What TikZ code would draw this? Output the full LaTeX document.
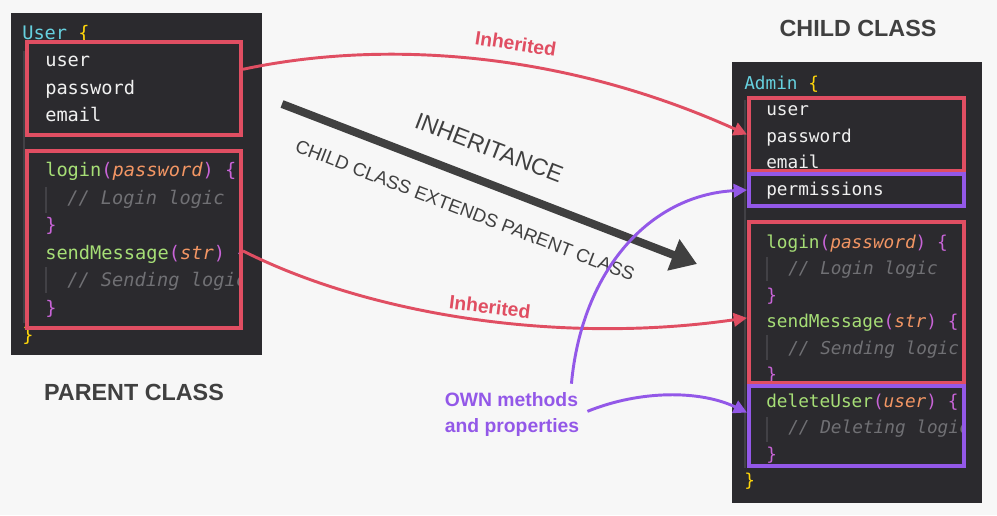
\documentclass[tikz,border=0pt]{standalone}
\usepackage{fontspec}
\setmainfont{Liberation Sans}
\newfontfamily\codefont[ItalicFont={DejaVu Sans Mono Oblique}]{DejaVu Sans Mono}
\usetikzlibrary{arrows.meta,fit}

\definecolor{bgpage}{RGB}{247,247,247}
\definecolor{panel}{RGB}{43,42,46}
\definecolor{guide}{RGB}{66,65,70}
\definecolor{inhred}{RGB}{224,78,98}
\definecolor{ownpurple}{RGB}{147,88,232}
\definecolor{kwcyan}{RGB}{102,208,222}
\definecolor{braceyel}{RGB}{255,214,10}
\definecolor{fngreen}{RGB}{166,222,118}
\definecolor{argorange}{RGB}{243,150,100}
\definecolor{parenpink}{RGB}{200,100,215}
\definecolor{cmtgray}{RGB}{112,112,116}
\definecolor{codewhite}{RGB}{240,240,240}
\definecolor{headgray}{RGB}{64,64,64}

\newcommand{\codefn}[1]{\textcolor{fngreen}{#1}}
\newcommand{\codearg}[1]{\textcolor{argorange}{\itshape #1}}
\newcommand{\codepar}[1]{\textcolor{parenpink}{#1}}
\newcommand{\codecmt}[1]{\textcolor{cmtgray}{\itshape #1}}
\newcommand{\codecls}[1]{\textcolor{kwcyan}{#1}~\textcolor{braceyel}{\{}}

\begin{document}
\begin{tikzpicture}[x=0.75pt, y=-0.75pt,
    pcode/.style={anchor=base west, inner sep=0, text=codewhite, font=\codefont\fontsize{14}{16}\selectfont},
    ccode/.style={pcode, font=\codefont\fontsize{13.3}{16}\selectfont},
    redbox/.style={draw=inhred, line width=3pt, inner sep=0},
    ownbox/.style={draw=ownpurple, line width=3pt, inner sep=0},
    heading/.style={font=\bfseries\fontsize{17.5}{20}\selectfont, text=headgray},
    inhline/.style={draw=inhred, line width=2.2pt, -{Triangle[length=10pt,width=10pt]}},
    ownline/.style={draw=ownpurple, line width=2.2pt, -{Triangle[length=10pt,width=10pt]}},
    tag/.style={font=\bfseries\fontsize{14.5}{17}\selectfont, text=inhred, inner sep=0}]
  \fill[bgpage] (0,0) rectangle (997,515);
  \useasboundingbox (0,0) rectangle (997,515);

  % code panels
  \fill[panel] (11,13) rectangle (262,355);
  \fill[panel] (732,62) rectangle (982,503);
  \draw[guide, line width=0.8pt] (24,51) -- (24,323) (46,187) -- (46,213) (46,267) -- (46,293)
    (745,100) -- (745,468) (767,257) -- (767,281) (767,335) -- (767,360) (767,417) -- (767,442);

  % parent class
  \begin{scope}
    \clip (11,13) rectangle (239,355);
    \node[pcode] (ptitle) at (22,39) {\codecls{User}};
    \node[pcode] (puser) at (45,66.5) {user};
    \node[pcode] (ppass) at (45,94) {password};
    \node[pcode] (pmail) at (45,121.5) {email};
    \node[pcode] (plogin) at (45,176.5) {\codefn{login}\codepar{(}\codearg{password}\codepar{) \{}};
    \node[pcode] (plogincmt) at (67,204) {\codecmt{// Login logic}};
    \node[pcode] (ploginend) at (45,231.5) {\codepar{\}}};
    \node[pcode] (psend) at (45,259) {\codefn{sendMessage}\codepar{(}\codearg{str}\codepar{) \{}};
    \node[pcode] (psendcmt) at (67,286.5) {\codecmt{// Sending logic}};
    \node[pcode] (psendend) at (45,314) {\codepar{\}}};
    \node[pcode] (pend) at (22,341.5) {\textcolor{braceyel}{\}}};
  \end{scope}
  \node[redbox, fit={(27,42) (241,135)}] (pprops) {};
  \node[redbox, fit={(27,151) (241,328)}] (pmeth) {};

  % child class
  \begin{scope}
    \clip (732,62) rectangle (962,503);
    \node[ccode] (ctitle) at (744,89) {\codecls{Admin}};
    \node[ccode] (cuser) at (766,115.5) {user};
    \node[ccode] (cpass) at (766,142) {password};
    \node[ccode] (cmail) at (766,168.5) {email};
    \node[ccode] (cperms) at (766,195) {permissions};
    \node[ccode] (clogin) at (766,248) {\codefn{login}\codepar{(}\codearg{password}\codepar{) \{}};
    \node[ccode] (clogincmt) at (788,274.5) {\codecmt{// Login logic}};
    \node[ccode] (cloginend) at (766,301) {\codepar{\}}};
    \node[ccode] (csend) at (766,327.5) {\codefn{sendMessage}\codepar{(}\codearg{str}\codepar{) \{}};
    \node[ccode] (csendcmt) at (788,354) {\codecmt{// Sending logic}};
    \node[ccode] (csendend) at (766,380.5) {\codepar{\}}};
    \node[ccode] (cdelete) at (766,407) {\codefn{deleteUser}\codepar{(}\codearg{user}\codepar{) \{}};
    \node[ccode] (cdeletecmt) at (788,433.5) {\codecmt{// Deleting logic}};
    \node[ccode] (cdeleteend) at (766,460) {\codepar{\}}};
    \node[ccode] (cend) at (744,486.5) {\textcolor{braceyel}{\}}};
  \end{scope}
  \node[redbox, fit={(749,98) (964,171)}] (cprops) {};
  \node[ownbox, fit={(749,174) (964,206)}] (cperm) {};
  \node[redbox, fit={(749,222) (964,383)}] (cmeth) {};
  \node[ownbox, fit={(749,386) (964,466)}] (cdel) {};

  \node[heading] (childhead) at (858,28) {CHILD CLASS};
  \node[heading] (parenthead) at (134,392) {PARENT CLASS};

  % inheritance arrow
  \coordinate (inhstart) at (282,104);
  \coordinate (inhend) at (697,264);
  \draw[headgray, line width=6pt, -{Triangle[length=19pt,width=24pt]}] (inhstart) -- (inhend)
    node[pos=0.47, sloped, above=16pt, inner sep=0, font=\fontsize{17.5}{20}\selectfont] (inhtxt) {INHERITANCE}
    node[pos=0.47, sloped, below=17pt, inner sep=0, font=\fontsize{14}{16}\selectfont] (extxt) {CHILD CLASS EXTENDS PARENT CLASS};

  % inherited members
  \draw[inhline] (pprops.10) .. controls (380,40) and (560,50) .. (cprops.west)
    node[tag, pos=0.57, sloped, above=9pt] (tagtop) {Inherited};
  \draw[inhline] (pmeth.-6) .. controls (370,315) and (560,345) .. (cmeth.188)
    node[tag, pos=0.53, sloped, above=4pt] (tagbottom) {Inherited};

  % own members
  \node[font=\bfseries\fontsize{14.5}{19.5}\selectfont, text=ownpurple, align=left, inner sep=6pt] (own) at (512,414) {OWN methods\\and properties};
  \draw[ownline] (own.27) .. controls (582,270) and (650,195) .. (cperm.west);
  \draw[ownline] (own.2) .. controls (640,390) and (700,390) .. (cdel.173);
\end{tikzpicture}
\end{document}
